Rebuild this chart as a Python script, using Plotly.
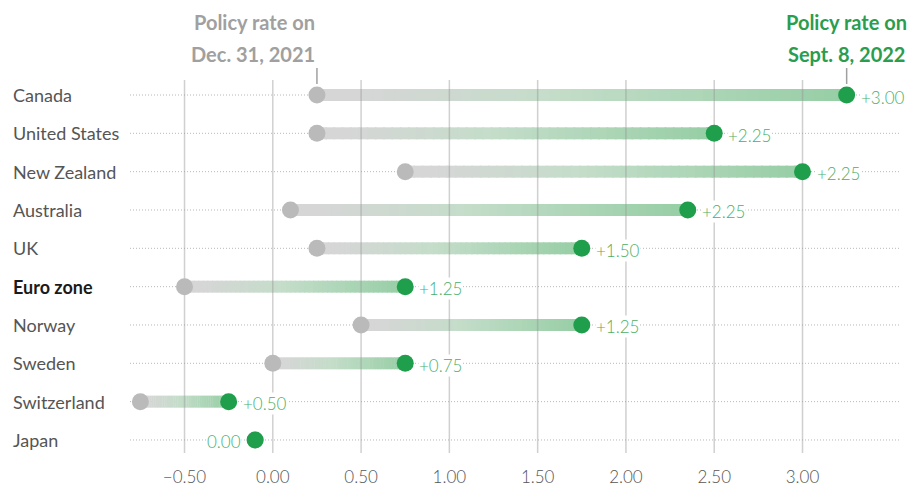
import plotly.graph_objects as go

countries = ["Canada", "United States", "New Zealand", "Australia", "UK",
             "Euro zone", "Norway", "Sweden", "Switzerland", "Japan"]
rate_dec2021 = [0.25, 0.25, 0.75, 0.10, 0.25, -0.50, 0.50, 0.00, -0.75, -0.10]
rate_sep2022 = [3.25, 2.50, 3.00, 2.35, 1.75, 0.75, 1.75, 0.75, -0.25, -0.10]
tick_vals = [-0.5, 0.0, 0.5, 1.0, 1.5, 2.0, 2.5, 3.0]
tick_text = ["\u22120.50", "0.00", "0.50", "1.00", "1.50", "2.00", "2.50", "3.00"]

FONT = "Lato"
W, H = 911, 488
B = 23
PX_X = 176.57          # pixels per unit on x
X0 = 272.8             # pixel of x=0
PX_Y = 38.33           # pixels per row
Y0 = 95                # pixel of first row
plot_h = H - B
xr = [-X0 / PX_X, (W - X0) / PX_X]
yr = [(plot_h - Y0) / PX_Y, -Y0 / PX_Y]

def ypx(p):
    return (p - Y0) / PX_Y

def xpx(p):
    return (p - X0) / PX_X

GRAY_DOT = "#bababa"
GREEN_DOT = "#1f9e4b"
GREEN_TXT = "#4caf68"
start_rgb = (214, 214, 214)
mid_rgb = (196, 221, 201)
end_rgb = (150, 206, 165)

def lerp(c1, c2, f):
    return tuple(s + (e - s) * f for s, e in zip(c1, c2))

shapes = []
# dotted row lines
for i in range(len(countries)):
    shapes.append(dict(type="line", xref="x", yref="y", x0=xpx(130), x1=xpx(900),
                       y0=i, y1=i, line=dict(color="#b8b8b8", width=1, dash="1px,2px"),
                       layer="below"))
# gradient bars
N = 48
half = 6 / PX_Y
for i, (a, b) in enumerate(zip(rate_dec2021, rate_sep2022)):
    if b == a:
        continue
    for k in range(N):
        t0 = k / N
        t1 = (k + 1) / N
        tm = (t0 + t1) / 2
        if tm < 0.45:
            col = lerp(start_rgb, mid_rgb, max(0.0, (tm - 0.08) / 0.37))
        else:
            col = lerp(mid_rgb, end_rgb, (tm - 0.45) / 0.55)
        xa = a + (b - a) * t0
        xb = a + (b - a) * t1 + (b - a) * 0.004
        shapes.append(dict(type="rect", xref="x", yref="y", x0=xa, x1=xb,
                           y0=i - half, y1=i + half,
                           fillcolor="rgb(%d,%d,%d)" % tuple(int(round(v)) for v in col),
                           line=dict(width=0), layer="below"))
# vertical gridlines (drawn over bars, faintly visible through them)
for v in tick_vals:
    shapes.append(dict(type="line", xref="x", yref="y", x0=v, x1=v,
                       y0=ypx(80), y1=ypx(453), line=dict(color="rgba(150,150,150,0.45)", width=1.5),
                       layer="below"))
# header tick marks
for xv in (rate_dec2021[0], rate_sep2022[0]):
    shapes.append(dict(type="line", xref="x", yref="y", x0=xv, x1=xv,
                       y0=ypx(68), y1=ypx(84), line=dict(color="#a0a0a0", width=1.5)))

fig = go.Figure()
ys = list(range(len(countries)))
fig.add_trace(go.Scatter(x=rate_dec2021, y=ys, mode="markers",
                         marker=dict(size=17, color=GRAY_DOT), hoverinfo="skip",
                         showlegend=False))
fig.add_trace(go.Scatter(x=rate_sep2022, y=ys, mode="markers",
                         marker=dict(size=17, color=GREEN_DOT),
                         hoverinfo="skip", showlegend=False))

changes = [b - a for a, b in zip(rate_dec2021, rate_sep2022)]
annotations = []
for i, (d, xv) in enumerate(zip(changes, rate_sep2022)):
    pos = d > 0.001
    label = ("+%.2f" % d) if pos else ("%.2f" % abs(d))
    annotations.append(dict(xref="x", yref="y", x=xv, y=i, xanchor="left" if pos else "right",
                            yanchor="middle", xshift=13 if pos else -13, yshift=-2,
                            showarrow=False, text=label, bgcolor="white", borderpad=0,
                            font=dict(family=FONT, size=17, color=GREEN_TXT, weight=300)))

for i, c in enumerate(countries):
    bold = c == "Euro zone"
    annotations.append(dict(xref="paper", yref="y", x=11 / W, y=i, xanchor="left",
                            yanchor="middle", showarrow=False,
                            text=("<b>%s</b>" % c) if bold else c,
                            font=dict(family=FONT, size=18,
                                      color="#1a1a1a" if bold else "#555555")))
# headers
hdr = [("Policy rate on", "Dec. 31, 2021", rate_dec2021[0], "right", "#a0a0a0"),
       ("Policy rate on", "Sept. 8, 2022", rate_sep2022[0], "center", "#2a9d4e")]
for l1, l2, xv, anc, col in hdr:
    for txt, py in ((l1, 22), (l2, 54)):
        annotations.append(dict(xref="x", yref="y", x=xv, y=ypx(py), xanchor=anc,
                                yanchor="middle", showarrow=False, text="<b>%s</b>" % txt,
                                font=dict(family=FONT, size=20, color=col)))

fig.update_layout(
    width=W, height=H,
    margin=dict(l=0, r=0, t=0, b=B, pad=0, autoexpand=False),
    plot_bgcolor="white", paper_bgcolor="white",
    shapes=shapes, annotations=annotations,
    xaxis=dict(range=xr, showgrid=False, zeroline=False, showline=False,
               tickvals=tick_vals, ticktext=tick_text, ticks="", automargin=False,
               tickfont=dict(family=FONT, size=17, color="#555555", weight=300),
               fixedrange=True),
    yaxis=dict(range=yr, showgrid=False, zeroline=False, showline=False,
               showticklabels=False, automargin=False, fixedrange=True),
)
fig.write_html("out.html")
